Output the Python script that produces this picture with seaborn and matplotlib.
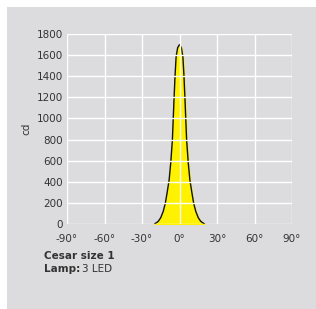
import numpy as np
import pandas as pd
import matplotlib
matplotlib.use("Agg")
import matplotlib.pyplot as plt
import seaborn as sns
from matplotlib.patches import Rectangle

# photometric curve (angle in degrees, intensity in cd)
angles = [-20, -17, -15, -13, -11.3, -10, -8.3, -7, -5.7, -4.3, -3.5, -2.7, -1.5, 0,
          1.5, 2.7, 3.5, 4.3, 5.7, 7, 8.3, 10, 11.3, 13, 15, 17, 20]
intensity = [0, 25, 60, 120, 199, 290, 417, 580, 795, 1205, 1420, 1585, 1670, 1700,
             1670, 1585, 1420, 1205, 795, 580, 417, 290, 199, 120, 60, 25, 0]
x_ticks = [-90, -60, -30, 0, 30, 60, 90]
y_ticks = list(range(0, 1801, 200))
title = "Cesar size 1"
lamp = "3 LED"

panel = "#dcdcde"
txt = "#333333"

sns.set_style("whitegrid", {"axes.facecolor": panel, "grid.color": "white",
                            "axes.edgecolor": panel})
plt.rcParams["font.family"] = ["DejaVu Sans"]

fig = plt.figure(figsize=(3.16, 3.09), dpi=100)
fig.patch.set_facecolor("white")
fig.patches.append(Rectangle((7 / 316, 0), 1 - 7 / 316, 1 - 7 / 309,
                             transform=fig.transFigure, facecolor=panel,
                             edgecolor="none", zorder=-1))

ax = fig.add_axes([67 / 316, 1 - 224 / 309, 225 / 316, 190 / 309])
ax.set_zorder(2)
df = pd.DataFrame({"angle": angles, "cd": intensity})
ax.fill_between(df["angle"], df["cd"], color="#fff200", zorder=1)
sns.lineplot(data=df, x="angle", y="cd", color="#111111", lw=1.0, ax=ax, zorder=2)

ax.set_xlim(-90, 90)
ax.set_ylim(0, 1800)
ax.set_xticks(x_ticks)
ax.set_xticklabels([f"{t}°" for t in x_ticks])
ax.set_yticks(y_ticks)
ax.tick_params(length=0, labelsize=7.5, colors=txt)
ax.tick_params(axis="x", pad=7)
ax.tick_params(axis="y", pad=3)
ax.grid(True, color="white", lw=1.0, zorder=3)
ax.set_axisbelow(False)
for s in ax.spines.values():
    s.set_visible(False)
ax.set_xlabel("")
ax.set_ylabel("cd", fontsize=7.5, color=txt, labelpad=4)

fig.text(44 / 316, 1 - 256 / 309, title, fontsize=7.5, fontweight="bold",
         color=txt, va="center", zorder=3)
fig.text(44 / 316, 1 - 269 / 309, "Lamp:", fontsize=7.5, fontweight="bold",
         color=txt, va="center", zorder=3)
fig.text(82 / 316, 1 - 269 / 309, lamp, fontsize=7.5, color=txt, va="center",
         zorder=3)

fig.savefig("out.png", dpi=100)
